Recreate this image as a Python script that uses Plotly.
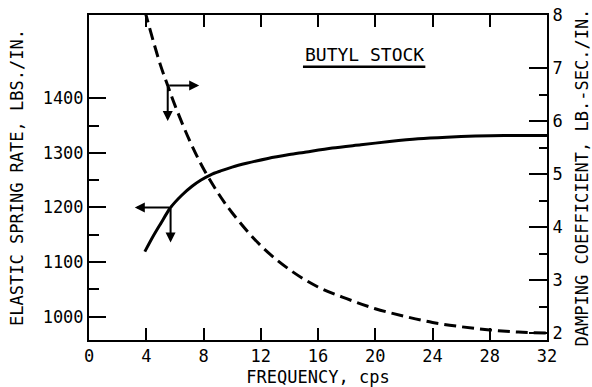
import plotly.graph_objects as go

# Data
freq_spring = [3.9, 4.5, 5.0, 5.7, 6.5, 7.2, 7.8, 8.5, 9.2, 10.0, 11.0, 12.5, 14.0, 15.0, 17.0, 19.0, 21.0, 23.0, 25.0, 27.0, 29.0, 32.0]
spring_rate = [1119, 1148, 1170, 1200, 1223, 1239, 1250, 1260, 1267, 1274, 1281, 1290, 1297, 1301, 1309, 1315, 1321, 1326, 1329, 1331, 1332, 1332]

freq_damp = [3.9, 4.5, 5.0, 5.5, 6.0, 7.0, 8.0, 9.0, 10.0, 12.0, 14.0, 16.0, 18.0, 20.0, 22.0, 24.0, 26.0, 28.0, 30.0, 32.0]
damping = [8.08, 7.5, 7.05, 6.67, 6.3, 5.65, 5.1, 4.65, 4.27, 3.65, 3.2, 2.87, 2.65, 2.46, 2.32, 2.2, 2.12, 2.06, 2.02, 2.0]

x_ticks = [0, 4, 8, 12, 16, 20, 24, 28, 32]
y_ticks = [1000, 1100, 1200, 1300, 1400]
y_minor = [1050, 1150, 1250, 1350]
y2_ticks = [2, 3, 4, 5, 6, 7, 8]
y2_minor = [2.5, 3.5, 4.5, 5.5, 6.5]

FONT = "DejaVu Sans Mono"

fig = go.Figure()
fig.add_trace(go.Scatter(x=freq_spring, y=spring_rate, mode="lines",
                         line=dict(color="black", width=3, shape="spline", smoothing=0.8),
                         showlegend=False, cliponaxis=False))
fig.add_trace(go.Scatter(x=freq_damp, y=damping, mode="lines", yaxis="y2",
                         line=dict(color="black", width=3, dash="12px,6px", shape="spline"),
                         showlegend=False, cliponaxis=False))

# indicator arrows
# damping curve -> right axis
fig.add_annotation(x=7.7, y=6.67, ax=5.5, ay=6.67, xref="x", yref="y2", axref="x", ayref="y2",
                   text="", showarrow=True, arrowhead=2, arrowsize=1, arrowwidth=2, arrowcolor="black")
fig.add_annotation(x=5.5, y=6.0, ax=5.5, ay=6.67, xref="x", yref="y2", axref="x", ayref="y2",
                   text="", showarrow=True, arrowhead=2, arrowsize=1, arrowwidth=2, arrowcolor="black")
# spring curve -> left axis
fig.add_annotation(x=3.2, y=1200, ax=5.7, ay=1200, xref="x", yref="y", axref="x", ayref="y",
                   text="", showarrow=True, arrowhead=2, arrowsize=1, arrowwidth=2, arrowcolor="black")
fig.add_annotation(x=5.7, y=1136, ax=5.7, ay=1200, xref="x", yref="y", axref="x", ayref="y",
                   text="", showarrow=True, arrowhead=2, arrowsize=1, arrowwidth=2, arrowcolor="black")

# label
fig.add_annotation(x=19.25, y=1480, xref="x", yref="y", text="BUTYL STOCK", showarrow=False,
                   font=dict(family=FONT, size=18, color="black"))
fig.add_shape(type="line", x0=14.95, x1=23.5, y0=1458, y1=1458, xref="x", yref="y",
              line=dict(color="black", width=2.5))

axis_font = dict(family=FONT, size=17, color="black")
title_font = dict(family=FONT, size=17, color="black")
fig.update_layout(
    width=592, height=387,
    margin=dict(l=89, r=45, t=15, b=47, autoexpand=False),
    paper_bgcolor="white", plot_bgcolor="white",
    font=dict(family=FONT, color="black"),
    xaxis=dict(range=[0, 32], tickvals=x_ticks, ticks="inside", ticklen=12, tickwidth=2,
               tickcolor="black", showline=True, linewidth=2, linecolor="black", mirror="ticks",
               showgrid=False, zeroline=False, tickfont=axis_font, automargin=False,
               title=dict(text="FREQUENCY, cps", font=title_font, standoff=8)),
    yaxis=dict(range=[957, 1553], tickvals=y_ticks, ticks="inside", ticklen=17, tickwidth=2,
               tickcolor="black", showline=True, linewidth=2, linecolor="black",
               showgrid=False, zeroline=False, tickfont=axis_font, automargin=False,
               minor=dict(tickvals=y_minor, ticks="inside", ticklen=10, tickwidth=2, tickcolor="black"),
               title=dict(text="ELASTIC SPRING RATE, LBS./IN.", font=title_font, standoff=15)),
    yaxis2=dict(range=[1.87, 8], tickvals=y2_ticks, overlaying="y", side="right",
                ticks="inside", ticklen=18, tickwidth=2, tickcolor="black",
                showline=True, linewidth=2, linecolor="black", automargin=False,
                showgrid=False, zeroline=False, tickfont=axis_font,
                minor=dict(tickvals=y2_minor, ticks="inside", ticklen=8, tickwidth=2, tickcolor="black"),
                title=dict(text="DAMPING COEFFICIENT, LB.-SEC./IN.", font=title_font, standoff=14)),
)

fig.write_html("out.html")
